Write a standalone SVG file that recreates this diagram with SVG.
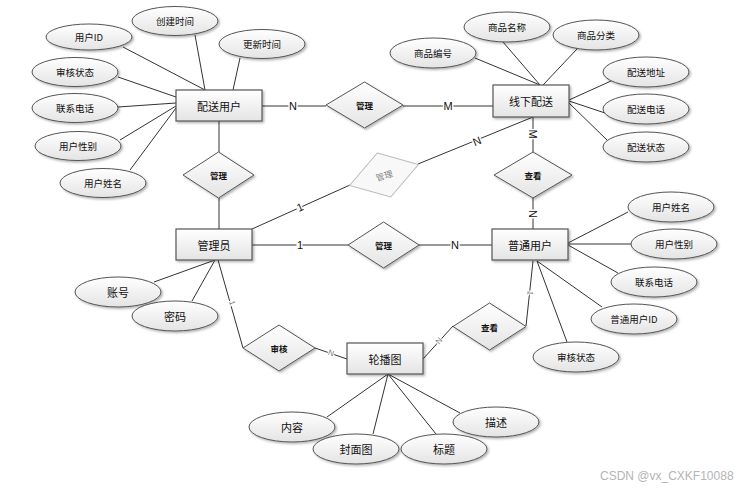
<svg xmlns="http://www.w3.org/2000/svg" width="746" height="488" viewBox="0 0 746 488">
<defs>
<linearGradient id="g" x1="0" y1="0" x2="0" y2="1">
<stop offset="0" stop-color="#ffffff"/>
<stop offset="1" stop-color="#e4e4e4"/>
</linearGradient>
<filter id="sh" x="-10%" y="-10%" width="130%" height="140%">
<feDropShadow dx="1.5" dy="1.5" stdDeviation="1" flood-color="#000" flood-opacity="0.3"/>
</filter>
</defs>
<style>
.ent{fill:url(#g);stroke:#555;stroke-width:1.2;filter:url(#sh)}
.att{fill:url(#g);stroke:#555;stroke-width:1;filter:url(#sh)}
.rel{fill:url(#g);stroke:#555;stroke-width:1;filter:url(#sh)}
.relg{fill:#f8f8f8;stroke:#bbb;stroke-width:1}
.t{font-family:"Noto Sans CJK SC","Liberation Sans",sans-serif;text-anchor:middle;dominant-baseline:central;fill:#111}
.te{font-size:11px}
.ta{font-size:9.5px}
.tb{font-size:11px}
.tr{font-size:8.5px;font-weight:bold}
.lab{font-family:"Liberation Sans",sans-serif;font-size:11px;text-anchor:middle;dominant-baseline:central;fill:#111;stroke:#fff;stroke-width:3;paint-order:stroke}
.labs{font-family:"Liberation Sans",sans-serif;font-size:8px;text-anchor:middle;dominant-baseline:central;fill:#777;stroke:#fff;stroke-width:2;paint-order:stroke}
.c line{stroke:#333;stroke-width:1}
</style>
<rect width="746" height="488" fill="#fff"/>
<g id="connectors" class="c">
<line x1="123" y1="47" x2="205" y2="90"/>
<line x1="195" y1="35" x2="205" y2="90"/>
<line x1="240" y1="58" x2="233" y2="90"/>
<line x1="118" y1="77" x2="176" y2="97"/>
<line x1="118" y1="107" x2="176" y2="103"/>
<line x1="120" y1="140" x2="176" y2="106"/>
<line x1="130" y1="170" x2="176" y2="108"/>
<line x1="262" y1="106" x2="326" y2="106"/>
<line x1="403" y1="106" x2="493" y2="106"/>
<line x1="219" y1="121" x2="219" y2="152"/>
<line x1="219" y1="198" x2="219" y2="229"/>
<line x1="252" y1="229" x2="350" y2="185"/>
<line x1="418" y1="164" x2="533" y2="117"/>
<line x1="533" y1="117" x2="533" y2="152"/>
<line x1="533" y1="198" x2="533" y2="229"/>
<line x1="252" y1="245" x2="348" y2="245"/>
<line x1="419" y1="245" x2="492" y2="245"/>
<line x1="218" y1="260" x2="243" y2="348"/>
<line x1="315" y1="348" x2="347" y2="359"/>
<line x1="533" y1="261" x2="526" y2="326"/>
<line x1="453" y1="326" x2="423" y2="359"/>
<line x1="475" y1="58" x2="540" y2="85"/>
<line x1="503" y1="42" x2="540" y2="85"/>
<line x1="577" y1="49" x2="543" y2="85"/>
<line x1="611" y1="81" x2="569" y2="100"/>
<line x1="605" y1="113" x2="569" y2="101"/>
<line x1="607" y1="140" x2="569" y2="103"/>
<line x1="628" y1="212" x2="568" y2="243"/>
<line x1="631" y1="244" x2="568" y2="244"/>
<line x1="618" y1="273" x2="568" y2="245"/>
<line x1="602" y1="307" x2="537" y2="261"/>
<line x1="567" y1="342" x2="537" y2="261"/>
<line x1="154" y1="282" x2="215" y2="260"/>
<line x1="192" y1="301" x2="215" y2="260"/>
<line x1="327" y1="417" x2="388" y2="374"/>
<line x1="373" y1="434" x2="388" y2="374"/>
<line x1="436" y1="434" x2="388" y2="374"/>
<line x1="460" y1="413" x2="388" y2="374"/>
<text class="lab" x="293" y="106">N</text>
<text class="lab" x="448" y="106">M</text>
<text class="lab" x="533" y="134" transform="rotate(90 533 134)">M</text>
<text class="lab" x="533" y="214" transform="rotate(90 533 214)">N</text>
<text class="lab" x="300" y="207" transform="rotate(-24 300 207)">1</text>
<text class="lab" x="477" y="141" transform="rotate(-22 477 141)">N</text>
<text class="lab" x="300" y="245">1</text>
<text class="lab" x="455" y="245">N</text>
<text class="labs" x="232" y="303" transform="rotate(74 232 303)">1</text>
<text class="labs" x="331" y="353" transform="rotate(19 331 353)">N</text>
<text class="labs" x="530" y="293" transform="rotate(96 530 293)">1</text>
<text class="labs" x="439" y="341" transform="rotate(-48 439 341)">N</text>
</g>
<g id="attr-peisong">
<g id="a-yhid"><ellipse class="att" cx="89" cy="37" rx="43" ry="13"/><text class="t ta" x="89" y="37">用户ID</text></g>
<g id="a-cjsj"><ellipse class="att" cx="175" cy="21" rx="43" ry="14.5"/><text class="t ta" x="175" y="21">创建时间</text></g>
<g id="a-gxsj"><ellipse class="att" cx="262" cy="44" rx="43" ry="14.5"/><text class="t ta" x="262" y="44">更新时间</text></g>
<g id="a-shzt1"><ellipse class="att" cx="75" cy="72" rx="43" ry="14.5"/><text class="t ta" x="75" y="72">审核状态</text></g>
<g id="a-lxdh1"><ellipse class="att" cx="75" cy="108" rx="43" ry="14.5"/><text class="t ta" x="75" y="108">联系电话</text></g>
<g id="a-yhxb1"><ellipse class="att" cx="78" cy="146" rx="43" ry="14.5"/><text class="t ta" x="78" y="146">用户性别</text></g>
<g id="a-yhxm1"><ellipse class="att" cx="103" cy="183" rx="43" ry="14.5"/><text class="t ta" x="103" y="183">用户姓名</text></g>
</g>
<g id="attr-xianxia">
<g id="a-spbh"><ellipse class="att" cx="433" cy="53" rx="43" ry="15"/><text class="t ta" x="433" y="53">商品编号</text></g>
<g id="a-spmc"><ellipse class="att" cx="507" cy="27" rx="43" ry="15"/><text class="t ta" x="507" y="27">商品名称</text></g>
<g id="a-spfl"><ellipse class="att" cx="596" cy="35" rx="43" ry="15"/><text class="t ta" x="596" y="35">商品分类</text></g>
<g id="a-psdz"><ellipse class="att" cx="646" cy="72" rx="43" ry="15"/><text class="t ta" x="646" y="72">配送地址</text></g>
<g id="a-psdh"><ellipse class="att" cx="646" cy="109" rx="43" ry="15"/><text class="t ta" x="646" y="109">配送电话</text></g>
<g id="a-pszt"><ellipse class="att" cx="646" cy="147" rx="43" ry="15"/><text class="t ta" x="646" y="147">配送状态</text></g>
</g>
<g id="attr-putong">
<g id="a-yhxm2"><ellipse class="att" cx="671" cy="207" rx="43" ry="15"/><text class="t ta" x="671" y="207">用户姓名</text></g>
<g id="a-yhxb2"><ellipse class="att" cx="674" cy="244" rx="43" ry="15"/><text class="t ta" x="674" y="244">用户性别</text></g>
<g id="a-lxdh2"><ellipse class="att" cx="654" cy="282" rx="43" ry="15"/><text class="t ta" x="654" y="282">联系电话</text></g>
<g id="a-ptyhid"><ellipse class="att" cx="634" cy="319" rx="43" ry="15"/><text class="t ta" x="634" y="319">普通用户ID</text></g>
<g id="a-shzt2"><ellipse class="att" cx="576" cy="357" rx="43" ry="15"/><text class="t ta" x="576" y="357">审核状态</text></g>
</g>
<g id="attr-admin">
<g id="a-zh"><ellipse class="att" cx="118" cy="292" rx="43" ry="15"/><text class="t tb" x="118" y="292">账号</text></g>
<g id="a-mm"><ellipse class="att" cx="175" cy="316" rx="43" ry="15"/><text class="t tb" x="175" y="316">密码</text></g>
</g>
<g id="attr-lunbo">
<g id="a-nr"><ellipse class="att" cx="292" cy="427" rx="43" ry="15"/><text class="t tb" x="292" y="427">内容</text></g>
<g id="a-ms"><ellipse class="att" cx="496" cy="422" rx="43" ry="15"/><text class="t tb" x="496" y="422">描述</text></g>
<g id="a-fmt"><ellipse class="att" cx="356" cy="449" rx="43" ry="15"/><text class="t tb" x="356" y="449">封面图</text></g>
<g id="a-bt"><ellipse class="att" cx="444" cy="449" rx="43" ry="15"/><text class="t tb" x="444" y="449">标题</text></g>
</g>
<g id="e-peisong"><rect class="ent" x="176" y="90" width="86" height="31"/><text class="t te" x="219" y="105.5">配送用户</text></g>
<g id="e-xianxia"><rect class="ent" x="493" y="85" width="76" height="32"/><text class="t te" x="531" y="101">线下配送</text></g>
<g id="e-admin"><rect class="ent" x="176" y="229" width="76" height="31"/><text class="t te" x="214" y="244.5">管理员</text></g>
<g id="e-putong"><rect class="ent" x="492" y="229" width="76" height="31"/><text class="t te" x="530" y="244.5">普通用户</text></g>
<g id="e-lunbo"><rect class="ent" x="347" y="343" width="76" height="31"/><text class="t te" x="385" y="358.5">轮播图</text></g>
<g id="r-guanli1"><polygon class="rel" points="364.5,82 403,105 364.5,128 326,105"/><text class="t tr" x="364.5" y="105">管理</text></g>
<g id="r-guanli2"><polygon class="rel" points="218.5,152 254,175 218.5,198 183,175"/><text class="t tr" x="218.5" y="175">管理</text></g>
<g id="r-guanli3"><g transform="rotate(-17 384 175)"><polygon class="relg" points="384,152 420,175 384,198 348,175"/><text class="t" style="font-size:8.5px;fill:#888" x="384" y="175">管理</text></g></g>
<g id="r-chakan1"><polygon class="rel" points="533,152 572,175 533,198 494,175"/><text class="t tr" x="533" y="175">查看</text></g>
<g id="r-guanli4"><polygon class="rel" points="383.5,222 419,245 383.5,268 348,245"/><text class="t tr" x="383.5" y="245">管理</text></g>
<g id="r-shenhe"><polygon class="rel" points="279,325 315,348 279,371 243,348"/><text class="t tr" x="279" y="348">审核</text></g>
<g id="r-chakan2"><polygon class="rel" points="489.5,303 526,326.5 489.5,350 453,326.5"/><text class="t tr" x="489.5" y="326.5">查看</text></g>
<text x="600" y="480" style="font-family:'Liberation Sans',sans-serif;font-size:12px;fill:#b4b4b4">CSDN @vx_CXKF10088</text>
</svg>
